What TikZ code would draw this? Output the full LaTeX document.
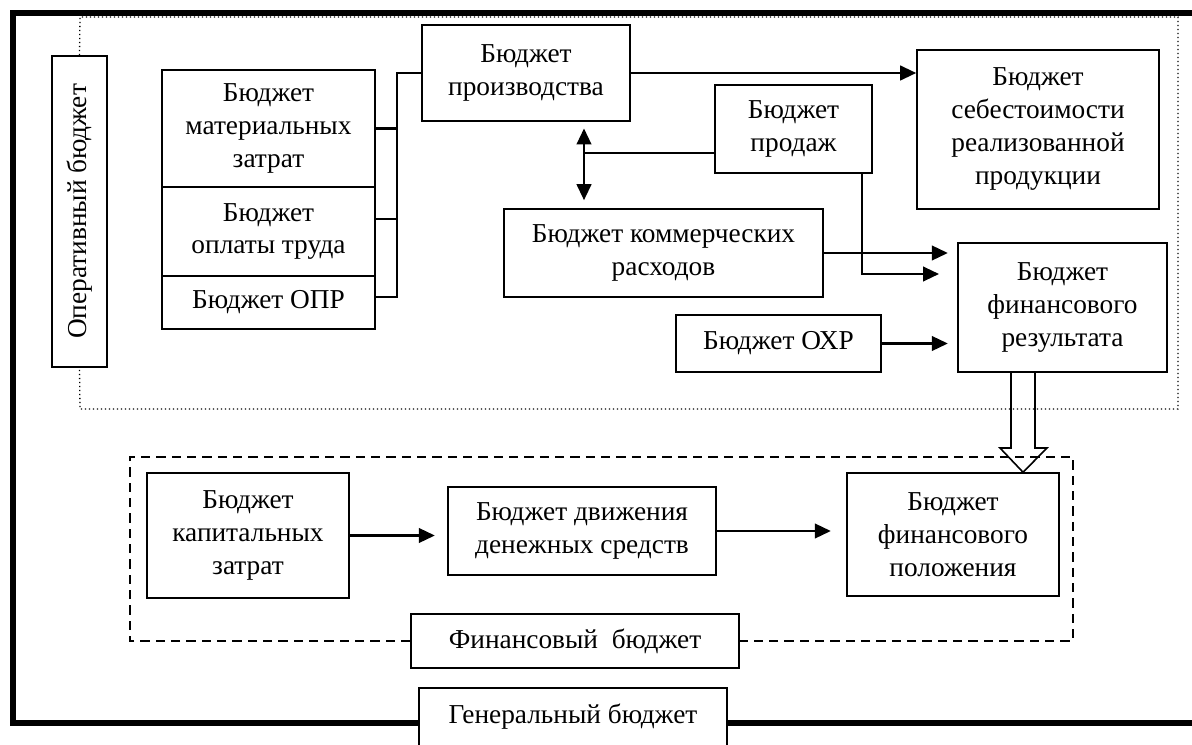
\documentclass[tikz,border=0pt]{standalone}
\usepackage{fontspec}
\setmainfont{Liberation Serif}
\usetikzlibrary{arrows.meta}

\begin{document}
\begin{tikzpicture}[x=0.75pt,y=0.75pt,
  blok/.style={draw=black,line width=1.2pt,fill=white,align=center,inner sep=2pt,font=\fontsize{20.5}{24.75}\selectfont},
  liniya/.style={line width=1.6pt},
  strelka/.style={line width=1.6pt,-{Triangle[length=12pt,width=11pt]}},
  dvestrelki/.style={line width=1.6pt,{Triangle[length=12pt,width=11pt]}-{Triangle[length=12pt,width=11pt]}}]
\useasboundingbox (0,0) rectangle (1192,744);
\clip (0,0) rectangle (1192,744);

\node[blok,rotate=90,minimum width=233.25pt,minimum height=41.25pt] (oper) at (79.5,532.5) {Оперативный бюджет};
\node[blok,minimum width=159.75pt,minimum height=87.75pt] (mat) at (268.5,615.5) {Бюджет\\материальных\\затрат};
\node[blok,minimum width=159.75pt,minimum height=66.75pt] (trud) at (268.5,512.5) {Бюджет\\оплаты труда};
\node[blok,minimum width=159.75pt,minimum height=39.75pt] (opr) at (268.5,441.5) {Бюджет ОПР};
\node[blok,minimum width=156pt,minimum height=72pt] (proizv) at (526,671) {Бюджет\\производства};
\node[blok,minimum width=181.5pt,minimum height=119.25pt] (sebest) at (1038,614.5) {Бюджет\\себестоимости\\реализованной\\продукции};
\node[blok,minimum width=117.75pt,minimum height=66pt] (prodazh) at (793.5,615) {Бюджет\\продаж};
\node[blok,minimum width=239.25pt,minimum height=66pt] (kommerch) at (663.5,491) {Бюджет коммерческих\\расходов};
\node[blok,minimum width=156.75pt,minimum height=96.75pt] (finrez) at (1062.5,436.5) {Бюджет\\финансового\\результата};
\node[blok,minimum width=153.75pt,minimum height=42.75pt] (ohr) at (778.5,400.5) {Бюджет ОХР};
\node[blok,minimum width=151.5pt,minimum height=93.75pt] (kapzat) at (248,208.5) {Бюджет\\капитальных\\затрат};
\node[blok,minimum width=201pt,minimum height=66pt] (dvizh) at (582,213) {Бюджет движения\\денежных средств};
\node[blok,minimum width=159pt,minimum height=92.25pt] (finpol) at (953,209.5) {Бюджет\\финансового\\положения};
\node[blok,minimum width=246pt,minimum height=40.5pt] (finbud) at (575,103) {Финансовый~ бюджет};
\node[blok,draw=none,minimum width=229.5pt,minimum height=42pt,anchor=north] (genbud) at (573,56) {Генеральный бюджет};

\coordinate (shinaT) at (397,671);
\coordinate (shinaB) at (397,447);
\coordinate (os) at (584,591);

\draw[line width=4.5pt] (1200,731) -- (13,731) -- (13,21) -- (genbud.west |- 13,21);
\draw[line width=4.5pt] (genbud.east |- 13,21) -- (1200,21);
\draw[line width=1.2pt] (genbud.south west) -- (genbud.north west) -- (genbud.north east) -- (genbud.south east);
\draw[dotted,line width=1pt] (oper.east) -- (80,727) -- (1178,727) -- (1178,335) -- (80,335) -- (oper.west);
\draw[dashed,dash pattern=on 7pt off 4.5pt,line width=1.2pt] (finbud.west) -- (130,103) -- (130,287) -- (1073,287) -- (1073,103) -- (finbud.east);

\draw[liniya] (proizv.west) -- (shinaT) -- (shinaB) -- (shinaB -| opr.east);
\draw[liniya] (mat.east) -- (mat.east -| shinaT);
\draw[liniya] ([yshift=9.4pt]trud.east) -- ([yshift=9.4pt]trud.east -| shinaT);
\draw[strelka] (proizv.east) -- (proizv.east -| sebest.west);
\draw[dvestrelki,shorten <=5pt,shorten >=6pt] (proizv.south -| os) -- (kommerch.north -| os);
\draw[liniya] (prodazh.west |- os) -- (os);
\draw[strelka] (kommerch.east) -- ++(124,0);
\draw[strelka] (prodazh.south -| 862,0) -- (862,470) -- (939,470);
\draw[strelka] (ohr.east) -- ++(66,0);
\draw[strelka] (kapzat.east) -- ++(85,0);
\draw[strelka] (dvizh.east) -- ++(114,0);
\draw[line width=1.2pt] (finrez.south -| 1011,0) -- (1011,296) -- (1000,296) -- (finpol.north -| 1023,0) -- (1047,296) -- (1035,296) -- (finrez.south -| 1035,0);
\end{tikzpicture}
\end{document}
